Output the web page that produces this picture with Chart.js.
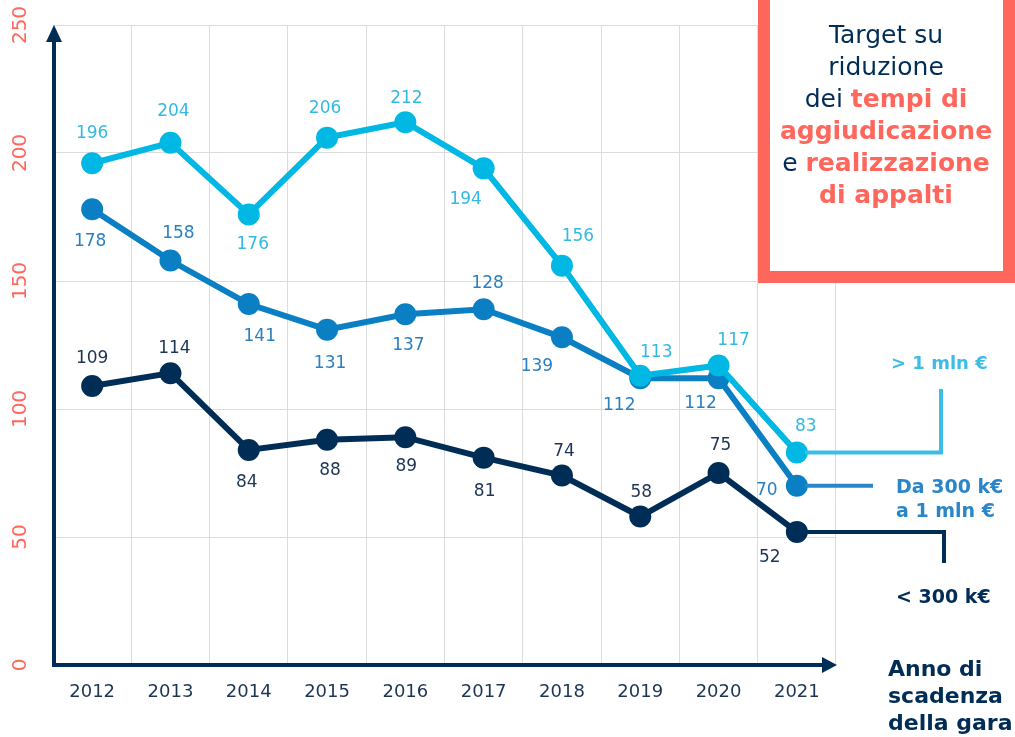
<!DOCTYPE html>
<html>
<head>
<meta charset="utf-8">
<script src="https://cdn.jsdelivr.net/npm/chart.js@4"></script>
<style>
  html, body { margin: 0; padding: 0; background: #fff; }
  #wrap { width: 1015px; height: 737px; position: relative; }
</style>
</head>
<body>
<div id="wrap"><canvas id="chart" width="1015" height="737"></canvas></div>
<script>
const years = ['2012', '2013', '2014', '2015', '2016', '2017', '2018', '2019', '2020', '2021']
const yTicks = [0, 50, 100, 150, 200, 250]

// > 1 mln €
const overOneMln = [196, 204, 176, 206, 212, 194, 156, 113, 117, 83]
const overOneMlnLabels = ['196', '204', '176', '206', '212', '194', '156', '113', '117', '83']
// Da 300 k€ a 1 mln €
const midRange = [178, 158, 141, 131, 137, 139, 128, 112, 112, 70]
const midRangeLabels = ['178', '158', '141', '131', '137', '128', '139', '112', '112', '70']
// < 300 k€
const under300k = [109, 114, 84, 88, 89, 81, 74, 58, 75, 52]
const under300kLabels = ['109', '114', '84', '88', '89', '81', '74', '58', '75', '52']

const navy = '#002d55'
const mid = '#0a7fc4'
const light = '#00b8e3'
const salmon = '#ff665c'
const fontFamily = '"DejaVu Sans", sans-serif'

// label offsets from each point (px)
const lightOffsets = [[0,-30],[3,-31],[4,30],[-2,-29],[1,-24],[-18,31],[16,-29],[16,-23],[15,-25],[9,-26]]
const midOffsets = [[-2,32],[8,-27],[11,33],[3,34],[3,31],[4,-26],[-25,29],[-21,27],[-18,25],[-30,5]]
const darkOffsets = [[0,-27],[4,-25],[-2,33],[3,31],[1,29],[1,34],[2,-24],[1,-24],[2,-27],[-27,26]]

const context = document.getElementById('chart').getContext('2d')

const decorations = {
  id: 'decorations',
  afterDatasetsDraw(chart) {
    const ctx = chart.ctx

    // data labels
    const sets = [
      { idx: 0, labels: overOneMlnLabels, offs: lightOffsets, color: '#33b9e4' },
      { idx: 1, labels: midRangeLabels, offs: midOffsets, color: '#2b80c2' },
      { idx: 2, labels: under300kLabels, offs: darkOffsets, color: '#1d3554' }
    ]
    ctx.save()
    ctx.font = '17px ' + fontFamily
    ctx.textAlign = 'center'
    ctx.textBaseline = 'middle'
    sets.forEach(s => {
      const meta = chart.getDatasetMeta(s.idx)
      ctx.fillStyle = s.color
      meta.data.forEach((pt, i) => {
        ctx.fillText(s.labels[i], pt.x + s.offs[i][0], pt.y + s.offs[i][1])
      })
    })
    ctx.restore()

    // legend connectors
    const lastLight = chart.getDatasetMeta(0).data[9]
    const lastMid = chart.getDatasetMeta(1).data[9]
    const lastDark = chart.getDatasetMeta(2).data[9]
    ctx.save()
    ctx.lineWidth = 4
    ctx.lineCap = 'butt'
    ctx.lineJoin = 'miter'
    ctx.strokeStyle = '#3bbde6'
    ctx.beginPath()
    ctx.moveTo(lastLight.x + 8, lastLight.y)
    ctx.lineTo(941, lastLight.y)
    ctx.lineTo(941, 389)
    ctx.stroke()
    ctx.strokeStyle = '#2a86c8'
    ctx.beginPath()
    ctx.moveTo(lastMid.x + 8, lastMid.y)
    ctx.lineTo(873, lastMid.y)
    ctx.stroke()
    ctx.strokeStyle = navy
    ctx.beginPath()
    ctx.moveTo(lastDark.x + 8, lastDark.y)
    ctx.lineTo(944, lastDark.y)
    ctx.lineTo(944, 563)
    ctx.stroke()

    ctx.textAlign = 'left'
    ctx.textBaseline = 'alphabetic'
    ctx.font = 'bold 18px ' + fontFamily
    ctx.fillStyle = '#3bbde6'
    ctx.fillText('> 1 mln €', 891, 369)
    ctx.font = 'bold 19px ' + fontFamily
    ctx.fillStyle = '#2a86c8'
    ctx.fillText('Da 300 k€', 896, 493)
    ctx.fillText('a 1 mln €', 896, 517)
    ctx.fillStyle = navy
    ctx.fillText('< 300 k€', 896, 603)
    ctx.restore()
  },
  afterDraw(chart) {
    const ctx = chart.ctx
    const area = chart.chartArea
    const y = chart.scales.y

    ctx.save()
    // y tick labels, rotated
    ctx.fillStyle = salmon
    ctx.font = '20px ' + fontFamily
    ctx.textAlign = 'center'
    ctx.textBaseline = 'middle'
    y.ticks.forEach(t => {
      const py = y.getPixelForValue(t.value)
      ctx.save()
      ctx.translate(21, py)
      ctx.rotate(-Math.PI / 2)
      ctx.fillText(String(t.value), 0, 0)
      ctx.restore()
    })

    // axes with arrows
    ctx.strokeStyle = navy
    ctx.fillStyle = navy
    ctx.lineWidth = 4
    ctx.beginPath()
    ctx.moveTo(area.left + 1, area.bottom)
    ctx.lineTo(area.left + 1, area.top + 14)
    ctx.moveTo(area.left - 1, area.bottom)
    ctx.lineTo(area.right - 10, area.bottom)
    ctx.stroke()
    ctx.beginPath()
    ctx.moveTo(area.left + 1, area.top)
    ctx.lineTo(area.left - 7, area.top + 17)
    ctx.lineTo(area.left + 9, area.top + 17)
    ctx.closePath()
    ctx.fill()
    ctx.beginPath()
    ctx.moveTo(area.right + 1, area.bottom)
    ctx.lineTo(area.right - 14, area.bottom - 8)
    ctx.lineTo(area.right - 14, area.bottom + 8)
    ctx.closePath()
    ctx.fill()

    // axis title
    ctx.font = 'bold 22px ' + fontFamily
    ctx.textAlign = 'left'
    ctx.textBaseline = 'alphabetic'
    ctx.fillText('Anno di', 888, 676)
    ctx.fillText('scadenza', 888, 703)
    ctx.fillText('della gara', 888, 730)

    // target box
    ctx.fillStyle = '#fff'
    ctx.fillRect(764, -10, 245, 287)
    ctx.strokeStyle = salmon
    ctx.lineWidth = 12
    ctx.strokeRect(764, -10, 245, 287)

    const cx = 886
    const regular = '25px ' + fontFamily
    const bold = 'bold 25px ' + fontFamily
    const lines = [
      [['Target su', regular, navy]],
      [['riduzione', regular, navy]],
      [['dei ', regular, navy], ['tempi di', bold, salmon]],
      [['aggiudicazione', bold, salmon]],
      [['e ', regular, navy], ['realizzazione', bold, salmon]],
      [['di appalti', bold, salmon]]
    ]
    lines.forEach((parts, li) => {
      let w = 0
      parts.forEach(p => { ctx.font = p[1]; w += ctx.measureText(p[0]).width })
      let x = cx - w / 2
      parts.forEach(p => {
        ctx.font = p[1]
        ctx.fillStyle = p[2]
        ctx.fillText(p[0], x, 43 + li * 32)
        x += ctx.measureText(p[0]).width
      })
    })
    ctx.restore()
  }
}

const seriesStyle = {
  borderWidth: 6,
  pointRadius: 11,
  pointHoverRadius: 11,
  pointBorderWidth: 0
}

const chart = new Chart(context, {
  type: 'line',
  data: {
    labels: years,
    datasets: [{
      label: '> 1 mln €',
      data: overOneMln,
      borderColor: light,
      backgroundColor: light,
      ...seriesStyle
    }, {
      label: 'Da 300 k€ a 1 mln €',
      data: midRange,
      borderColor: mid,
      backgroundColor: mid,
      ...seriesStyle
    }, {
      label: '< 300 k€',
      data: under300k,
      borderColor: navy,
      backgroundColor: navy,
      ...seriesStyle
    }]
  },
  options: {
    responsive: false,
    animation: false,
    events: [],
    clip: false,
    layout: { padding: { left: 53, right: 179, top: 25, bottom: 0 } },
    plugins: {
      legend: { display: false },
      tooltip: { enabled: false }
    },
    scales: {
      x: {
        offset: true,
        grid: { offset: true, color: '#dcdcdc', lineWidth: 1, drawTicks: false },
        border: { display: false },
        ticks: {
          color: '#1d3554',
          font: { family: fontFamily, size: 18 },
          padding: 17
        },
        afterFit: s => { s.height = 72 }
      },
      y: {
        min: 0,
        max: 250,
        afterBuildTicks: s => { s.ticks = yTicks.map(v => ({ value: v })) },
        grid: { color: '#dcdcdc', lineWidth: 1, drawTicks: false },
        border: { display: false },
        ticks: { display: false },
        afterFit: s => { s.width = 0 }
      }
    }
  },
  plugins: [decorations]
})
</script>
</body>
</html>
